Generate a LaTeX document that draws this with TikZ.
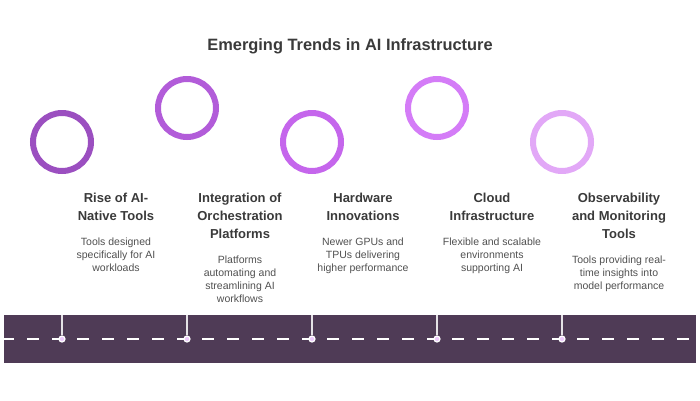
\documentclass[tikz,border=0pt]{standalone}
\usepackage{fontspec}
\setmainfont{Liberation Sans}
\usetikzlibrary{positioning}
\definecolor{bandcol}{HTML}{4F3B56}
\definecolor{ringA}{HTML}{9B4FC0}
\definecolor{ringB}{HTML}{B25CD9}
\definecolor{ringC}{HTML}{C566EC}
\definecolor{ringD}{HTML}{D47CF7}
\definecolor{ringE}{HTML}{E2A8F7}
\definecolor{headcol}{HTML}{3A3A3A}
\definecolor{desccol}{HTML}{505050}
\begin{document}
\begin{tikzpicture}[x=1pt, y=1pt, node distance=17pt,
  ring/.style={circle,draw,line width=6pt,minimum size=58pt,inner sep=0pt},
  hub/.style={circle,draw=white,fill=ringD!40,line width=1.2pt,minimum size=6pt,inner sep=0pt},
  head/.style={anchor=north,align=center,inner sep=0pt,text=headcol,font=\fontsize{13}{18}\selectfont\bfseries},
  desc/.style={align=center,inner sep=0pt,text=desccol,font=\fontsize{10.5}{13}\selectfont}]
\useasboundingbox (0,0) rectangle (700,-400);
% title
\node[text=headcol,font=\fontsize{16.4}{20}\selectfont\bfseries] (title) at (350,-46) {Emerging Trends in AI Infrastructure};
% band
\fill[bandcol] (4,-315) rectangle (696,-363);
\draw[white, line width=1.5pt, dash pattern=on 12pt off 13pt, dash phase=2pt] (4,-339) -- (696,-339);
\begin{scope}[every node/.style={hub}]
\node (hub1) at (62,-339) {};%1
\node (hub2) at (187,-339) {};%2
\node (hub3) at (312,-339) {};%3
\node (hub4) at (437,-339) {};%4
\node (hub5) at (562,-339) {};%5
\end{scope}
\coordinate (top1) at (62,-315);
\coordinate (top2) at (187,-315);
\coordinate (top3) at (312,-315);
\coordinate (top4) at (437,-315);
\coordinate (top5) at (562,-315);
\begin{scope}[every path/.style={draw=white!85!bandcol,line width=1.3pt}]
\draw (top1) -- (hub1);
\draw (top2) -- (hub2);
\draw (top3) -- (hub3);
\draw (top4) -- (hub4);
\draw (top5) -- (hub5);
\end{scope}
% rings
\node[ring,draw=ringA] (ring1) at (62,-142) {};%1
\node[ring,draw=ringB] (ring2) at (187,-108) {};%2
\node[ring,draw=ringC] (ring3) at (312,-142) {};%3
\node[ring,draw=ringD] (ring4) at (437,-108) {};%4
\node[ring,draw=ringE] (ring5) at (562,-142) {};%5
% headings
\node[head] (head1) at (116,-193) {Rise of AI-\\Native Tools};
\node[head] (head2) at (240,-193) {Integration of\\Orchestration\\Platforms};
\node[head] (head3) at (363,-193) {Hardware\\Innovations};
\node[head] (head4) at (492,-193) {Cloud\\Infrastructure};
\node[head] (head5) at (619,-193) {Observability\\and Monitoring\\Tools};
% descriptions
\node[desc,below=of head1] (desc1) {Tools designed\\specifically for AI\\workloads};
\node[desc,below=of head2] (desc2) {Platforms\\automating and\\streamlining AI\\workflows};
\node[desc,below=of head3] (desc3) {Newer GPUs and\\TPUs delivering\\higher performance};
\node[desc,below=of head4] (desc4) {Flexible and scalable\\environments\\supporting AI};
\node[desc,below=of head5] (desc5) {Tools providing real-\\time insights into\\model performance};
\end{tikzpicture}
\end{document}
